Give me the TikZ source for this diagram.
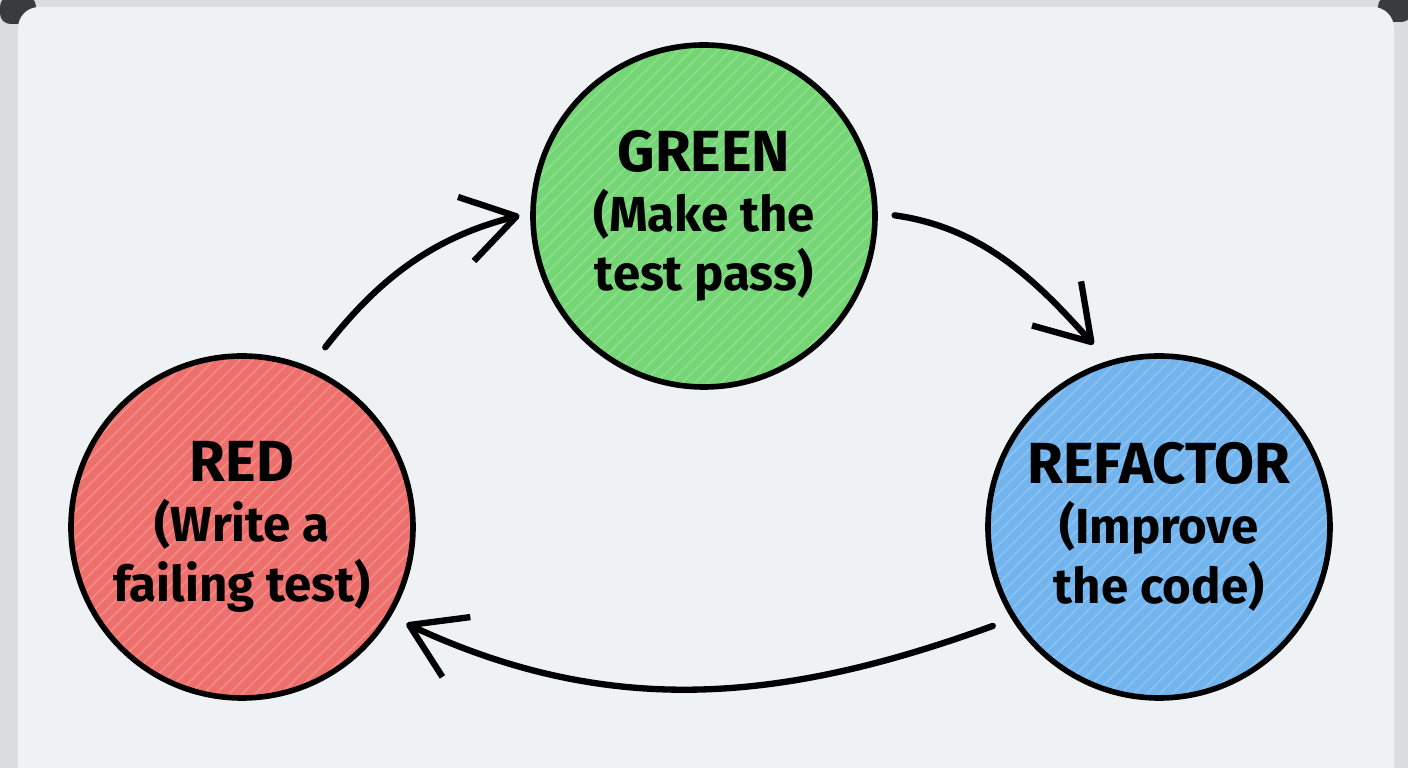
\documentclass[tikz,border=0pt]{standalone}
\usepackage{fontspec}
\setmainfont{Fira Sans}
\usetikzlibrary{arrows.meta,patterns.meta}
\definecolor{board}{HTML}{EEF2F5}
\definecolor{framegrey}{HTML}{DADCDE}
\definecolor{framedark}{HTML}{3A3B3C}
\definecolor{redfill}{HTML}{EE706C}
\definecolor{greenfill}{HTML}{74D674}
\definecolor{bluefill}{HTML}{72B4EE}
\newcommand\phasetitle[1]{{\fontsize{16.5}{17}\selectfont #1}}

\begin{document}
\begin{tikzpicture}[font=\bfseries\fontsize{14}{17}\selectfont,
  phase/.style={circle,draw=black,line width=1.6pt,minimum size=3.42cm,
    inner sep=0pt,align=center,preaction={fill=#1},
    preaction={pattern={Lines[angle=45,distance=2.6pt,line width=0.5pt]},
      pattern color=#1!82!white}},
  flow/.style={line width=1.8pt,line cap=round,
    -{Straight Barb[length=5.2mm,width=6.6mm,line join=round]}}]
\useasboundingbox (0,0) rectangle (14.08,7.68);
% frame and board
\fill[framegrey] (0,0) rectangle (14.08,7.68);
\fill[framedark,rounded corners=3pt] (0,7.44) rectangle (0.36,7.72);
\fill[framedark,rounded corners=3pt] (13.78,7.46) rectangle (14.12,7.72);
\fill[board,rounded corners=6pt] (0.18,-0.2) rectangle (13.94,7.61);
% phases
\node[phase=redfill] (red) at (2.42,2.41) {\phasetitle{RED}\\(Write a\\failing test)};
\node[phase=greenfill] (green) at (7.04,5.52) {\phasetitle{GREEN}\\(Make the\\test pass)};
\node[phase=bluefill] (blue) at (11.59,2.41) {\phasetitle{REFACTOR}\\(Improve\\the code)};
% cycle
\draw[flow,shorten <=2.5mm,shorten >=1.1mm] (red.67) to[out=52,in=194] (green.179);
\draw[flow,shorten <=1.7mm,shorten >=2.2mm] (green.1) to[out=-8,in=132] (blue.107);
\draw[flow,shorten <=2mm,shorten >=1.7mm] (blue.212) to[out=200,in=335] (red.-31);
\end{tikzpicture}
\end{document}
